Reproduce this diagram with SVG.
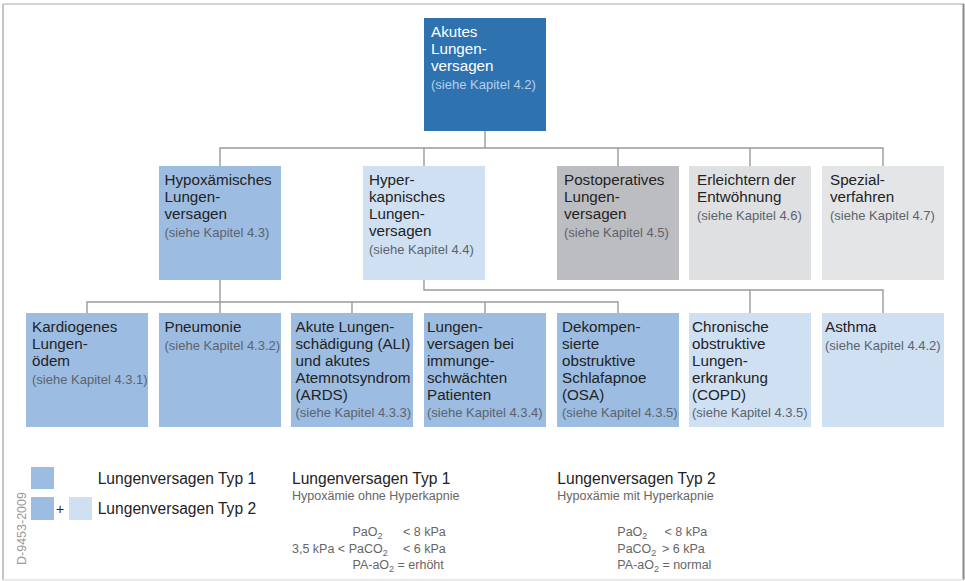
<svg xmlns="http://www.w3.org/2000/svg" width="965" height="581" viewBox="0 0 965 581">
<style>
text{font-family:"Liberation Sans",Arial,sans-serif}
.t{font-size:15.2px;fill:#232323}
.s{font-size:13px;fill:#5c636c}
.tw{font-size:15.2px;fill:#ffffff}
.sw{font-size:13px;fill:#b7cfe8}
.l{font-size:15.6px;fill:#232323}
.g{font-size:12.5px;fill:#666666}
.sub{font-size:9px}
.dark{fill:#2e73b0}
.mid{fill:#9cbce1}
.light{fill:#cfe0f3}
.gray{fill:#bcbdc0}
.lgray{fill:#dfe0e2}
.llgray{fill:#e4e5e7}
.c{fill:none;stroke:#9a9a9a;stroke-width:1.4}
</style>
<rect x="0" y="0" width="965" height="581" fill="#ffffff"/>
<g id="frame" fill="none">
<line x1="3" y1="4" x2="964" y2="4" stroke="#c4c4c4" stroke-width="1.5"/>
<line x1="3" y1="4" x2="3" y2="580" stroke="#a8a8a8" stroke-width="1.3"/>
<line x1="963.5" y1="4" x2="963.5" y2="580" stroke="#8a8a8a" stroke-width="2"/>
<line x1="3" y1="580" x2="964" y2="580" stroke="#e2e2e2" stroke-width="1.5"/>
</g>
<g id="connectors">
<path class="c" d="M485 131V148M220 166V148H883V166M424 148V166M618 148V166M750 148V166"/>
<path class="c" d="M220 280V302M87 313V302H618V313M220 302V313M352 302V313M485 302V313"/>
<path class="c" d="M424 280V290H883V313M750 290V313"/>
</g>
<g id="n-akut">
<rect class="dark" x="424" y="18" width="122" height="113"/>
<text class="tw" x="431" y="37">Akutes</text>
<text class="tw" x="431" y="54">Lungen-</text>
<text class="tw" x="431" y="71">versagen</text>
<text class="sw" x="431" y="88.5">(siehe Kapitel 4.2)</text>
</g>
<g id="n-hypox">
<rect class="mid" x="159" y="166" width="122" height="114"/>
<text class="t" x="164.5" y="185">Hypoxämisches</text>
<text class="t" x="164.5" y="202">Lungen-</text>
<text class="t" x="164.5" y="219">versagen</text>
<text class="s" x="164.5" y="237">(siehe Kapitel 4.3)</text>
</g>
<g id="n-hyper">
<rect class="light" x="363" y="166" width="122" height="114"/>
<text class="t" x="369" y="185">Hyper-</text>
<text class="t" x="369" y="202">kapnisches</text>
<text class="t" x="369" y="219">Lungen-</text>
<text class="t" x="369" y="236">versagen</text>
<text class="s" x="369" y="254">(siehe Kapitel 4.4)</text>
</g>
<g id="n-postop">
<rect class="gray" x="557" y="166" width="122" height="114"/>
<text class="t" x="564" y="185">Postoperatives</text>
<text class="t" x="564" y="202">Lungen-</text>
<text class="t" x="564" y="219">versagen</text>
<text class="s" x="564" y="237">(siehe Kapitel 4.5)</text>
</g>
<g id="n-entw">
<rect class="lgray" x="689" y="166" width="122" height="114"/>
<text class="t" x="697" y="185">Erleichtern der</text>
<text class="t" x="697" y="202">Entwöhnung</text>
<text class="s" x="697" y="220">(siehe Kapitel 4.6)</text>
</g>
<g id="n-spezial">
<rect class="llgray" x="822" y="166" width="122" height="114"/>
<text class="t" x="830" y="185">Spezial-</text>
<text class="t" x="830" y="202">verfahren</text>
<text class="s" x="830" y="220">(siehe Kapitel 4.7)</text>
</g>
<g id="n-kardio">
<rect class="mid" x="26" y="313" width="122" height="114"/>
<text class="t" x="32" y="332">Kardiogenes</text>
<text class="t" x="32" y="349">Lungen-</text>
<text class="t" x="32" y="366">ödem</text>
<text class="s" x="32" y="384">(siehe Kapitel 4.3.1)</text>
</g>
<g id="n-pneu">
<rect class="mid" x="159" y="313" width="122" height="114"/>
<text class="t" x="164.5" y="332">Pneumonie</text>
<text class="s" x="164.5" y="350">(siehe Kapitel 4.3.2)</text>
</g>
<g id="n-ards">
<rect class="mid" x="291" y="313" width="122" height="114"/>
<text class="t" x="295.5" y="332">Akute Lungen-</text>
<text class="t" x="295.5" y="349">schädigung (ALI)</text>
<text class="t" x="295.5" y="366">und akutes</text>
<text class="t" x="295.5" y="383">Atemnotsyndrom</text>
<text class="t" x="295.5" y="400">(ARDS)</text>
<text class="s" x="295.5" y="417.3">(siehe Kapitel 4.3.3)</text>
</g>
<g id="n-immun">
<rect class="mid" x="424" y="313" width="122" height="114"/>
<text class="t" x="427" y="332">Lungen-</text>
<text class="t" x="427" y="349">versagen bei</text>
<text class="t" x="427" y="366">immunge-</text>
<text class="t" x="427" y="383">schwächten</text>
<text class="t" x="427" y="400">Patienten</text>
<text class="s" x="427" y="417.3">(siehe Kapitel 4.3.4)</text>
</g>
<g id="n-osa">
<rect class="mid" x="557" y="313" width="122" height="114"/>
<text class="t" x="562" y="332">Dekompen-</text>
<text class="t" x="562" y="349">sierte</text>
<text class="t" x="562" y="366">obstruktive</text>
<text class="t" x="562" y="383">Schlafapnoe</text>
<text class="t" x="562" y="400">(OSA)</text>
<text class="s" x="562" y="417.3">(siehe Kapitel 4.3.5)</text>
</g>
<g id="n-copd">
<rect class="light" x="689" y="313" width="122" height="114"/>
<text class="t" x="692" y="332">Chronische</text>
<text class="t" x="692" y="349">obstruktive</text>
<text class="t" x="692" y="366">Lungen-</text>
<text class="t" x="692" y="383">erkrankung</text>
<text class="t" x="692" y="400">(COPD)</text>
<text class="s" x="692" y="417.3">(siehe Kapitel 4.3.5)</text>
</g>
<g id="n-asthma">
<rect class="light" x="822" y="313" width="122" height="114"/>
<text class="t" x="825" y="332">Asthma</text>
<text class="s" x="825" y="350">(siehe Kapitel 4.4.2)</text>
</g>
<g id="legend">
<rect class="mid" x="31" y="467" width="23" height="22"/>
<rect class="mid" x="31" y="497" width="23" height="23"/>
<text class="l" x="56" y="513.5" style="font-size:14px">+</text>
<rect class="light" x="69" y="497" width="23" height="23"/>
<text class="l" x="97.7" y="484">Lungenversagen Typ 1</text>
<text class="l" x="97.7" y="514">Lungenversagen Typ 2</text>
<text x="26" y="565" transform="rotate(-90 26 565)" style="font-size:12.5px;fill:#9a9a9a">D-9453-2009</text>
</g>
<g id="typ1">
<text class="l" x="292" y="484">Lungenversagen Typ 1</text>
<text class="g" x="292" y="500">Hypoxämie ohne Hyperkapnie</text>
<text class="g" x="352.5" y="536">PaO<tspan class="sub" dy="3">2</tspan></text>
<text class="g" x="403" y="536">&lt; 8 kPa</text>
<text class="g" x="292" y="553">3,5 kPa &lt; PaCO<tspan class="sub" dy="3">2</tspan></text>
<text class="g" x="403" y="553">&lt; 6 kPa</text>
<text class="g" x="352.5" y="569">PA-aO<tspan class="sub" dy="3">2</tspan><tspan dy="-3"> = erhöht</tspan></text>
</g>
<g id="typ2">
<text class="l" x="557.3" y="484">Lungenversagen Typ 2</text>
<text class="g" x="557.3" y="500">Hypoxämie mit Hyperkapnie</text>
<text class="g" x="617.3" y="536">PaO<tspan class="sub" dy="3">2</tspan></text>
<text class="g" x="664.5" y="536">&lt; 8 kPa</text>
<text class="g" x="617.3" y="553">PaCO<tspan class="sub" dy="3">2</tspan></text>
<text class="g" x="662" y="553">&gt; 6 kPa</text>
<text class="g" x="617.3" y="569">PA-aO<tspan class="sub" dy="3">2</tspan><tspan dy="-3"> = normal</tspan></text>
</g>
</svg>
